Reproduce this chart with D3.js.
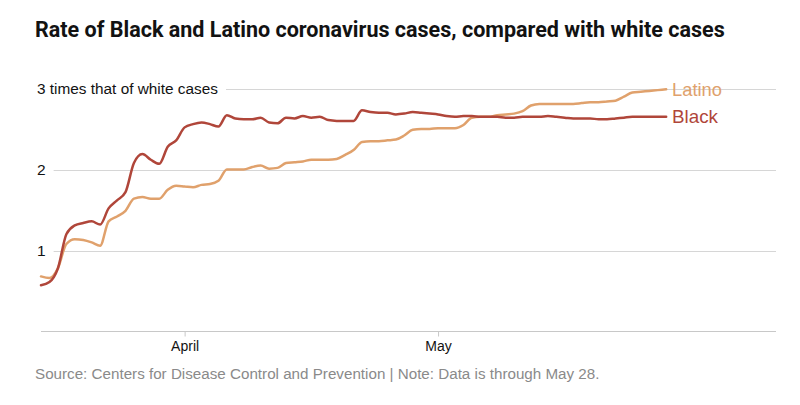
<!DOCTYPE html>
<html>
<head>
<meta charset="utf-8">
<script src="https://cdn.jsdelivr.net/npm/d3@7"></script>
<style>
  html, body { margin: 0; padding: 0; background: #fff; }
  svg { display: block; }
</style>
</head>
<body>
<svg id="chart" width="800" height="405"></svg>
<script>
// ---- data ----
const startDate = "2020-03-15";
const blackValues = [
  0.57, 0.61, 0.78, 1.20, 1.31, 1.34, 1.36, 1.32, 1.52, 1.62,
  1.72, 2.08, 2.19, 2.12, 2.07, 2.28, 2.36, 2.52, 2.56, 2.58,
  2.56, 2.53, 2.67, 2.63, 2.62, 2.62, 2.64, 2.58, 2.57, 2.64,
  2.63, 2.66, 2.64, 2.65, 2.61, 2.60, 2.60, 2.60, 2.73, 2.71,
  2.70, 2.70, 2.68, 2.69, 2.71, 2.70, 2.69, 2.68, 2.66, 2.65,
  2.66, 2.66, 2.65, 2.65, 2.65, 2.64, 2.64, 2.65, 2.65, 2.65,
  2.66, 2.65, 2.64, 2.63, 2.63, 2.63, 2.62, 2.62, 2.63, 2.64,
  2.65, 2.65, 2.65, 2.65, 2.65
];
const latinoValues = [
  0.68, 0.66, 0.78, 1.08, 1.14, 1.13, 1.10, 1.06, 1.36, 1.42,
  1.49, 1.64, 1.66, 1.64, 1.64, 1.75, 1.80, 1.79, 1.78, 1.81,
  1.82, 1.86, 2.00, 2.00, 2.00, 2.03, 2.05, 2.01, 2.02, 2.08,
  2.09, 2.10, 2.12, 2.12, 2.12, 2.13, 2.18, 2.24, 2.34, 2.35,
  2.35, 2.36, 2.37, 2.42, 2.49, 2.50, 2.50, 2.51, 2.51, 2.51,
  2.55, 2.64, 2.65, 2.65, 2.67, 2.68, 2.69, 2.72, 2.79, 2.81,
  2.81, 2.81, 2.81, 2.81, 2.82, 2.83, 2.83, 2.84, 2.85, 2.90,
  2.95, 2.96, 2.97, 2.98, 2.99
];
const seriesNames = ["Latino", "Black"];
const yTickValues = [1, 2, 3];
const yTickLabels = ["1", "2", "3 times that of white cases"];
const xTickDates = ["2020-04-01", "2020-05-01"];
const xTickLabels = ["April", "May"];
const xDomain = ["2020-03-15", "2020-06-10"];
const titleText = "Rate of Black and Latino coronavirus cases, compared with white cases";
const sourceText = "Source: Centers for Disease Control and Prevention | Note: Data is through May 28.";

// ---- setup ----
const parse = d3.utcParse("%Y-%m-%d");
const t0 = parse(startDate);
const dates = blackValues.map((_, i) => d3.utcDay.offset(t0, i));
const series = [
  { name: "Latino", values: latinoValues, color: "#e0a16c" },
  { name: "Black", values: blackValues, color: "#b0463a" }
];

const svg = d3.select("#chart");
const font = "'Liberation Sans', Arial, sans-serif";

function fit(sel, w) {
  const n = sel.node();
  const fs = parseFloat(sel.attr("font-size"));
  const l = n.getComputedTextLength();
  if (l > 0) sel.attr("font-size", fs * w / l);
}

const x = d3.scaleUtc().domain(xDomain.map(parse)).range([41, 776]);
const y = d3.scaleLinear().domain([0, 3]).range([331.5, 88.5]);

// title
const title = svg.append("text")
  .attr("x", 35).attr("y", 37)
  .attr("font-family", "Roboto, " + font)
  .attr("font-weight", 700)
  .attr("font-size", 20)
  .attr("fill", "#121212")
  .text(titleText);
fit(title, 690);

// y gridlines + labels
const yg = svg.append("g");
yTickValues.forEach((v, i) => {
  const lab = yg.append("text")
    .attr("x", 37).attr("y", y(v) + 5)
    .attr("font-family", font)
    .attr("font-size", 15.5)
    .attr("fill", "#121212")
    .text(yTickLabels[i]);
  if (i === yTickLabels.length - 1) fit(lab, 181);
  const w = lab.node().getComputedTextLength();
  yg.append("line")
    .attr("x1", 37 + w + 8).attr("x2", 776)
    .attr("y1", Math.round(y(v)) + 0.5).attr("y2", Math.round(y(v)) + 0.5)
    .attr("stroke", "#d6d6d6").attr("stroke-width", 1);
});

// x axis
const xAxis = d3.axisBottom(x)
  .tickValues(xTickDates.map(parse))
  .tickFormat((d, i) => xTickLabels[i])
  .tickSize(5)
  .tickPadding(6);
const xg = svg.append("g")
  .attr("transform", `translate(0,${331.5})`)
  .call(xAxis);
xg.select(".domain").attr("stroke", "#c8c8c8").attr("d", `M41,0H776`);
xg.selectAll(".tick line").attr("stroke", "#c8c8c8");
xg.selectAll(".tick text")
  .attr("font-family", font)
  .attr("font-size", 14)
  .attr("fill", "#121212")
  .attr("dy", "0.71em")
  .attr("y", 10);

// lines
const line = d3.line()
  .x((d, i) => x(dates[i]))
  .y(d => y(d))
  .curve(d3.curveMonotoneX);

series.forEach(s => {
  svg.append("path")
    .datum(s.values)
    .attr("fill", "none")
    .attr("stroke", s.color)
    .attr("stroke-width", 2.5)
    .attr("stroke-linejoin", "round")
    .attr("stroke-linecap", "round")
    .attr("d", line);
});

// series labels
const lastIdx = blackValues.length - 1;
const labelOffsets = { Latino: 7, Black: 6 };
series.forEach(s => {
  const lab = svg.append("text")
    .attr("x", 672)
    .attr("y", y(s.values[lastIdx]) + labelOffsets[s.name])
    .attr("font-family", font)
    .attr("font-size", 19)
    .attr("fill", s.color)
    .text(s.name);
  fit(lab, s.name === "Latino" ? 50 : 46);
});

// source
const src = svg.append("text")
  .attr("x", 35).attr("y", 379)
  .attr("font-family", font)
  .attr("font-size", 15)
  .attr("fill", "#8a8a8a")
  .text(sourceText);
fit(src, 565);
</script>
</body>
</html>
